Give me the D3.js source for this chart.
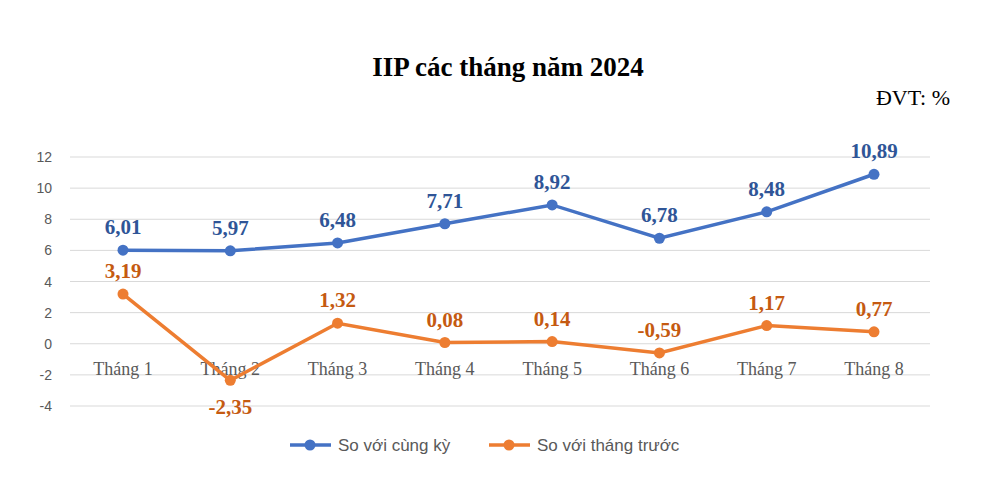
<!DOCTYPE html><html><head><meta charset="utf-8"><script src="https://cdn.jsdelivr.net/npm/d3@7"></script>
<style>body{margin:0;background:#fff}</style></head><body><svg id="c" width="1000" height="483"></svg>
<script>
const categories=["Tháng 1","Tháng 2","Tháng 3","Tháng 4","Tháng 5","Tháng 6","Tháng 7","Tháng 8"];
const cungKy=[6.01,5.97,6.48,7.71,8.92,6.78,8.48,10.89];
const thangTruoc=[3.19,-2.35,1.32,0.08,0.14,-0.59,1.17,0.77];
const yTicks=[-4,-2,0,2,4,6,8,10,12];
const seriesNames=["So với cùng kỳ","So với tháng trước"];
const svg=d3.select("#c");
const x=d3.scalePoint().domain(categories).range([123,874]);
const y=d3.scaleLinear().domain([-4,12]).range([406,157]);
const fmt=v=>v.toFixed(2).replace(".",",");
svg.append("text").attr("x",508).attr("y",76).attr("text-anchor","middle").attr("font-family","Liberation Serif").attr("font-weight","bold").attr("font-size",27).text("IIP các tháng năm 2024");
svg.append("text").attr("x",950).attr("y",105).attr("text-anchor","end").attr("font-family","Liberation Serif").attr("font-size",22).text("ĐVT: %");
svg.append("g").selectAll("line").data(yTicks).join("line").attr("x1",70).attr("x2",930).attr("y1",d=>y(d)).attr("y2",d=>y(d)).attr("stroke","#d9d9d9");
svg.append("g").selectAll("text").data(yTicks).join("text").attr("x",52).attr("y",d=>y(d)+5).attr("text-anchor","end").attr("font-family","Liberation Sans").attr("font-size",14).attr("fill","#595959").text(d=>d);
svg.append("g").selectAll("text").data(categories).join("text").attr("x",d=>x(d)).attr("y",y(0)+31).attr("text-anchor","middle").attr("font-family","Liberation Serif").attr("font-size",18).attr("fill","#595959").text(d=>d);
function series(vals,col,lcol,below){
  const line=d3.line().x((d,i)=>x(categories[i])).y(d=>y(d));
  svg.append("path").datum(vals).attr("d",line).attr("fill","none").attr("stroke",col).attr("stroke-width",3.5);
  svg.append("g").selectAll("circle").data(vals).join("circle").attr("cx",(d,i)=>x(categories[i])).attr("cy",d=>y(d)).attr("r",5.5).attr("fill",col);
  svg.append("g").selectAll("text").data(vals).join("text").attr("x",(d,i)=>x(categories[i])).attr("y",(d,i)=>below(d,i)?y(d)+34:y(d)-16).attr("text-anchor","middle").attr("font-family","Liberation Serif").attr("font-weight","bold").attr("font-size",21).attr("fill",lcol).text(fmt);
}
series(cungKy,"#4472c4","#2f5597",()=>false);
series(thangTruoc,"#ed7d31","#c55a11",d=>d<-1);
const lg=svg.append("g");
[[290,"#4472c4",seriesNames[0]],[489,"#ed7d31",seriesNames[1]]].forEach(([lx,c,t])=>{
  lg.append("line").attr("x1",lx).attr("x2",lx+41).attr("y1",445).attr("y2",445).attr("stroke",c).attr("stroke-width",3.5);
  lg.append("circle").attr("cx",lx+20).attr("cy",445).attr("r",5.5).attr("fill",c);
  lg.append("text").attr("x",lx+48).attr("y",451).attr("font-family","Liberation Sans").attr("font-size",17).attr("fill","#595959").text(t);
});
</script></body></html>
